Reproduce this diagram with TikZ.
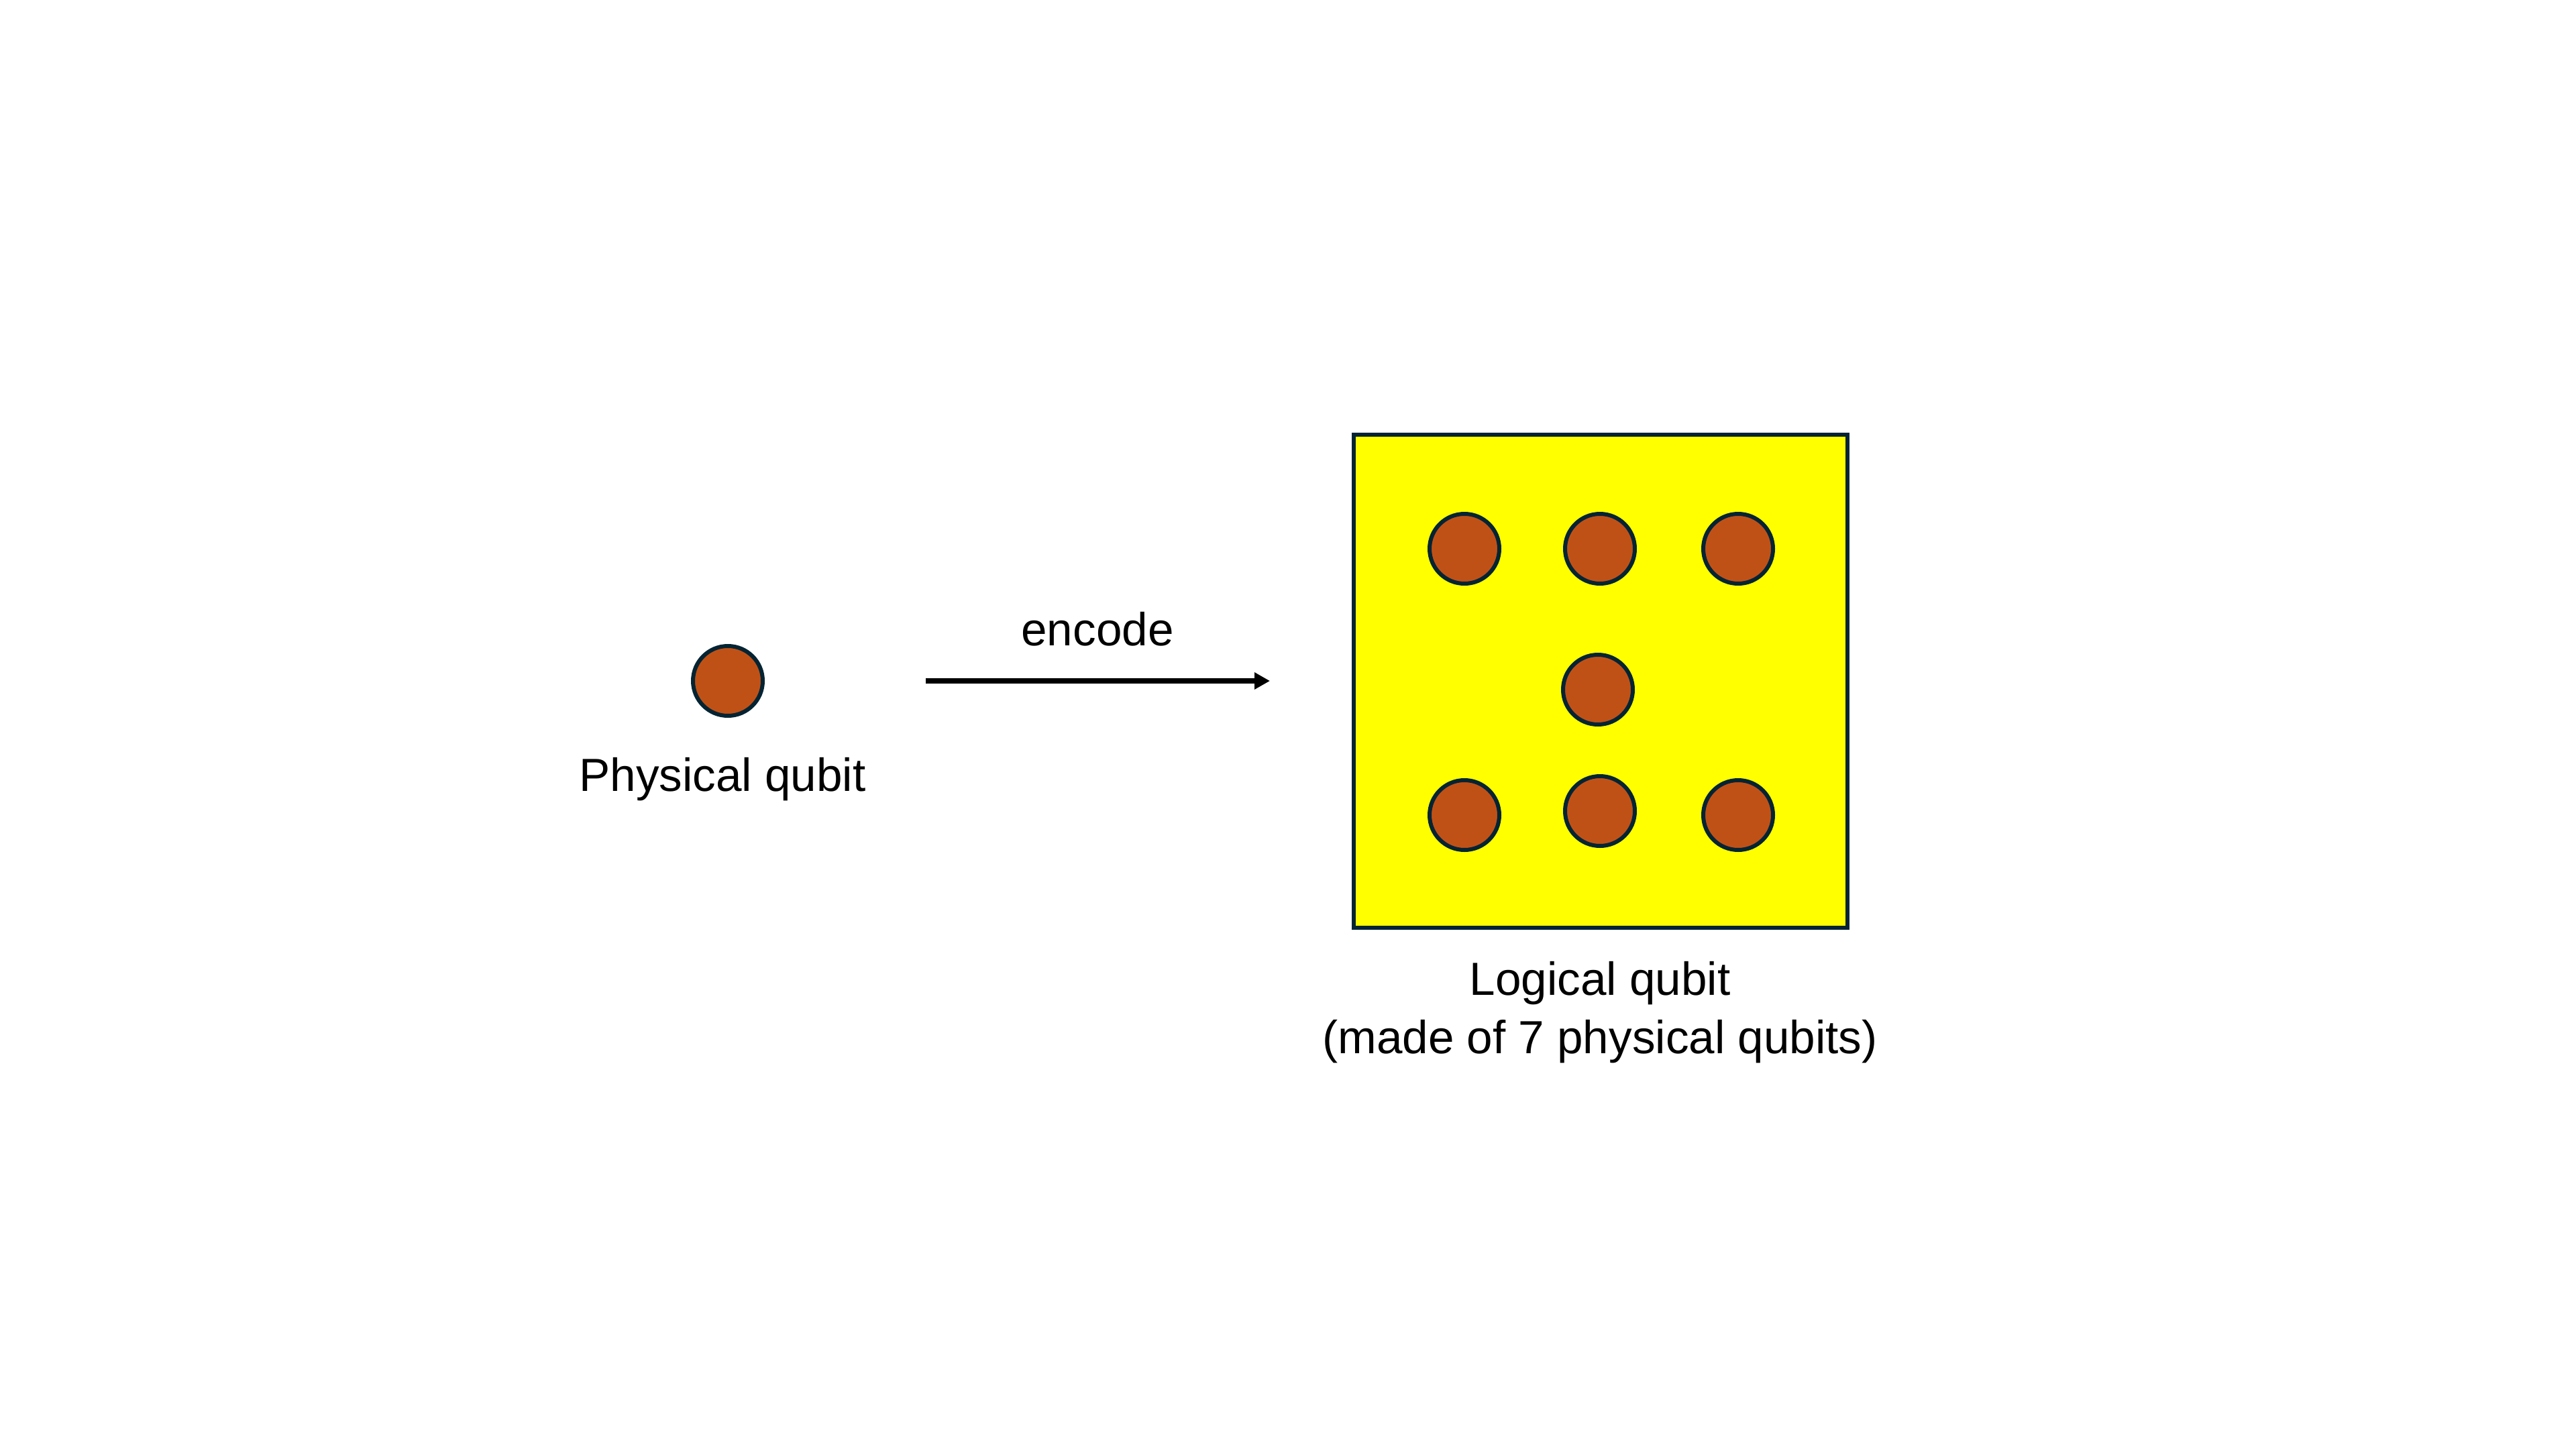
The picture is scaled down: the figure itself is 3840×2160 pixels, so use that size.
\documentclass[tikz,border=0pt]{standalone}
\usepackage{fontspec}
\setmainfont{Liberation Sans}
\usepackage{tikz}
\usetikzlibrary{%
  arrows.meta,%
  shapes,%
  positioning,%
  calc
}
\definecolor{qubitorange}{RGB}{192,81,22}
\definecolor{darknavy}{RGB}{4,36,51}
\definecolor{logicyellow}{RGB}{255,255,0}

\begin{document}
\begin{tikzpicture}
  [
  x=0.1mm, y=-0.1mm,
  font=\fontsize{19.7}{24.75}\selectfont, line width=0.6mm, draw=darknavy,
  >={Triangle[length=6.5pt,width=6.8pt]},
  qubitnode/.style={circle, inner sep=0pt, minimum size=10.4mm, draw=darknavy, fill=qubitorange, line width=0.6mm},
  blocknode/.style={rectangle, inner sep=0pt, minimum width=73.6mm, minimum height=73.5mm, draw=darknavy, fill=logicyellow, line width=0.6mm},
  labelnode/.style={anchor=base, inner sep=0pt, align=center},
  ]

  \path[fill=white] (0,0) rectangle (3840,2160);
  \useasboundingbox (0,0) rectangle (3840,2160);

  \node[qubitnode] (phys) at (1085,1015) {};
  \node[labelnode] (physlabel) at (1077,1179) {Physical qubit};

  \node[blocknode] (logical) at (2386,1015) {};

  \foreach \x/\y [count=\i] in {2183/818, 2385/818, 2591/818, 2382/1028, 2183/1215, 2385/1209, 2591/1215} {
    \node[qubitnode] (q\i) at (\x,\y) {};
  }

  \node[labelnode] (loglabel) at (2385,1570) {Logical qubit\\(made of 7 physical qubits)};

  \draw[->, black, line width=0.8mm, shorten <=24mm, shorten >=12.2mm] (phys) -- (logical);
  \node[labelnode] (enc) at (1636,962) {encode};

\end{tikzpicture}
\end{document}
